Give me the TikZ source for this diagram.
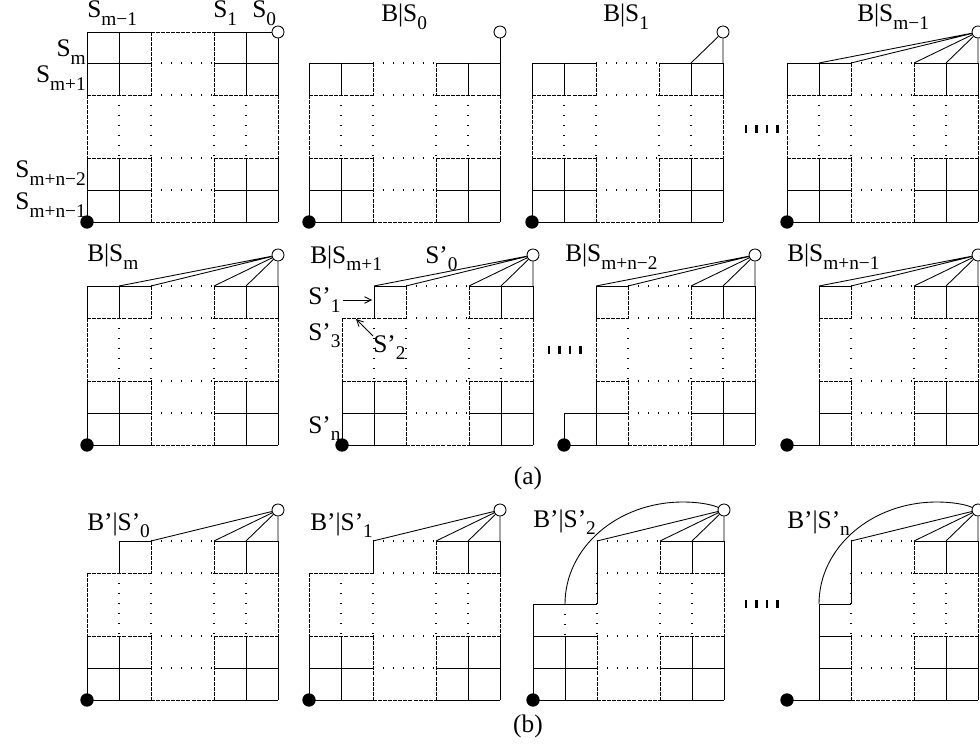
\documentclass[tikz,border=0pt]{standalone}
\usepackage{fontspec}
\setmainfont{Liberation Serif}
\usetikzlibrary{arrows.meta}
\newcommand\sbs[1]{\raisebox{-0.28em}{\fontsize{14.5}{14.5}\selectfont #1}}
\tikzset{
 sl/.style={line width=0.65pt},
 ds/.style={line width=0.65pt, dash pattern=on 3pt off 0.8pt},
 dt/.style={line width=0.9pt, dash pattern=on 1.1pt off 6.4pt},
 opn/.style={circle, draw, fill=white, line width=0.65pt, minimum size=9pt, inner sep=0pt},
 fil/.style={circle, fill=black, minimum size=10pt, inner sep=0pt},
 lbl/.style={font=\fontsize{19}{22}\selectfont, inner sep=0pt},
 tick/.style={line width=2pt},
 arr/.style={line width=0.6pt, -{Straight Barb[length=5pt,width=5pt]}},
}
\newcommand\rightpart{%
\draw[dt] (64,0)--(127,0) (64,32)--(127,32) (64,95)--(127,95) (64,127)--(127,127)
          (64,32)--(64,95) (127,32)--(127,95) (159,32)--(159,95);
\draw[sl] (127,0)--(191,0) (127,127)--(191,127) (127,159)--(191,159)
          (159,0)--(159,32) (159,95)--(159,159) (191,0)--(191,32) (191,95)--(191,159);
\draw[ds] (127,32)--(191,32) (127,95)--(191,95) (64,159)--(127,159)
          (64,0)--(64,32) (64,95)--(64,159) (127,0)--(127,32) (127,95)--(127,159) (191,32)--(191,95);
}
\newcommand\leftfull{%
\draw[sl] (0,0)--(64,0) (0,127)--(64,127) (0,159)--(64,159) (0,0)--(0,32) (0,95)--(0,159) (32,0)--(32,32) (32,95)--(32,159);
\draw[ds] (0,32)--(64,32) (0,95)--(64,95) (0,32)--(0,95);
\draw[dt] (32,32)--(32,95);}
\newcommand\leftnotch{%
\draw[sl] (32,0)--(64,0) (0,127)--(64,127) (0,159)--(64,159) (0,95)--(0,159) (32,0)--(32,32) (32,95)--(32,159);
\draw[ds] (0,32)--(64,32) (0,95)--(64,95) (0,32)--(0,95);
\draw[dt] (32,32)--(32,95);}
\newcommand\mkpts[1]{%
\coordinate (#1a) at (32,0); \coordinate (#1b) at (64,0); \coordinate (#1c) at (127,0);
\coordinate (#1d) at (159,0); \coordinate (#1e) at (191,0); \coordinate (#1f) at (0,159);
\coordinate (#1g) at (191,-31);
\node[opn] (#1o) at (#1g) {}; \node[fil] (#1k) at (#1f) {};}
\newcommand\bigarc[2]{\draw[sl] (#1) .. controls (32,6.7) and (84.3,-39) .. (150,-39)
   .. controls (163.9,-39) and (177.7,-36.9) .. (#2);}
\begin{document}
\begin{tikzpicture}[x=0.75pt,y=-0.75pt]
\useasboundingbox (0,0) rectangle (980,748);
% P1
\begin{scope}[shift={(87,63)}]
\rightpart\leftfull
\draw[sl] (0,-31)--(64,-31) (127,-31)--(191,-31) (0,-31)--(0,0) (32,-31)--(32,0) (159,-31)--(159,0) (191,-31)--(191,0);
\draw[ds] (64,-31)--(127,-31) (64,-31)--(64,0) (127,-31)--(127,0);
\mkpts{A}
\end{scope}
% P2
\begin{scope}[shift={(309,63)}]
\rightpart\leftfull\mkpts{B}
\draw[sl] (Bo)--(Be);
\end{scope}
% P3
\begin{scope}[shift={(532,63)}]
\rightpart\leftfull\mkpts{C}
\draw[sl] (Co)--(Ce) (Co)--(Cd);
\end{scope}
% P4
\begin{scope}[shift={(787,63)}]
\rightpart\leftfull\mkpts{D}
\draw[sl] (Do)--(De) (Do)--(Dd) (Do)--(Dc) (Do)--(Db) (Do)--(Da);
\end{scope}
% P5
\begin{scope}[shift={(87,286)}]
\rightpart\leftfull\mkpts{E}
\draw[sl] (Eo)--(Ee) (Eo)--(Ed) (Eo)--(Ec) (Eo)--(Eb) (Eo)--(Ea);
\end{scope}
% P6
\begin{scope}[shift={(342,286)}]
\rightpart\leftnotch\mkpts{F}
\draw[sl] (Fo)--(Fe) (Fo)--(Fd) (Fo)--(Fc) (Fo)--(Fb) (Fo)--(Fa);
\end{scope}
% P7
\begin{scope}[shift={(564,286)}]
\rightpart
\draw[sl] (32,0)--(64,0) (32,0)--(32,32) (32,95)--(32,159) (0,127)--(64,127) (0,159)--(64,159) (0,127)--(0,159);
\draw[ds] (32,32)--(64,32) (32,95)--(64,95) (32,32)--(32,95);
\mkpts{G}
\draw[sl] (Go)--(Ge) (Go)--(Gd) (Go)--(Gc) (Go)--(Gb) (Go)--(Ga);
\end{scope}
% P8
\begin{scope}[shift={(787,286)}]
\rightpart
\draw[sl] (32,0)--(64,0) (32,0)--(32,32) (32,95)--(32,159) (32,127)--(64,127) (0,159)--(64,159);
\draw[ds] (32,32)--(64,32) (32,95)--(64,95) (32,32)--(32,95);
\mkpts{H}
\draw[sl] (Ho)--(He) (Ho)--(Hd) (Ho)--(Hc) (Ho)--(Hb) (Ho)--(Ha);
\end{scope}
% P9
\begin{scope}[shift={(87,541)}]
\rightpart\leftnotch\mkpts{I}
\draw[sl] (Io)--(Ie) (Io)--(Id) (Io)--(Ic) (Io)--(Ib);
\end{scope}
% P10
\begin{scope}[shift={(309,541)}]
\rightpart
\draw[sl] (0,127)--(64,127) (0,159)--(64,159) (0,95)--(0,159) (32,95)--(32,159) (64,0)--(64,32);
\draw[ds] (0,32)--(64,32) (0,95)--(64,95) (0,32)--(0,95);
\draw[dt] (32,32)--(32,95);
\mkpts{J}
\draw[sl] (Jo)--(Je) (Jo)--(Jd) (Jo)--(Jc) (Jo)--(Jb);
\end{scope}
% P11
\begin{scope}[shift={(533,541)}]
\rightpart
\draw[sl] (0,63)--(64,63) (64,0)--(64,63) (0,63)--(0,159) (0,95)--(64,95) (0,127)--(64,127) (0,159)--(64,159) (32,95)--(32,159);
\draw[dt] (32,63)--(32,95);
\mkpts{K}
\coordinate (Ks) at (32,63);
\draw[sl] (Ko)--(Ke) (Ko)--(Kd) (Ko)--(Kc) (Ko)--(Kb);
\bigarc{Ks}{Ko}
\end{scope}
% P12
\begin{scope}[shift={(787,541)}]
\rightpart
\draw[sl] (32,63)--(64,63) (64,0)--(64,63) (32,63)--(32,159) (32,95)--(64,95) (32,127)--(64,127) (0,159)--(64,159);
\mkpts{L}
\coordinate (Ls) at (32,63);
\draw[sl] (Lo)--(Le) (Lo)--(Ld) (Lo)--(Lc) (Lo)--(Lb);
\bigarc{Ls}{Lo}
\end{scope}
% labels row 1
\node[lbl, anchor=base west] (lSm1) at (87,18) {S\sbs{m−1}};
\node[lbl, anchor=base west] (lS1) at (213,18) {S\sbs{1}};
\node[lbl, anchor=base west] (lS0) at (252,18) {S\sbs{0}};
\node[lbl, anchor=base east] (lSm) at (86,57) {S\sbs{m}};
\node[lbl, anchor=base east] (lSmp1) at (86,83) {S\sbs{m+1}};
\node[lbl, anchor=base east] (lSmn2) at (86,178) {S\sbs{m+n−2}};
\node[lbl, anchor=base east] (lSmn1) at (86,210) {S\sbs{m+n−1}};
\node[lbl, anchor=base west] (tB) at (381,22) {B|S\sbs{0}};
\node[lbl, anchor=base west] (tC) at (603,22) {B|S\sbs{1}};
\node[lbl, anchor=base west] (tD) at (857,22) {B|S\sbs{m−1}};
% labels row 2
\node[lbl, anchor=base west] (tE) at (87,262) {B|S\sbs{m}};
\node[lbl, anchor=base west] (tF) at (310,263) {B|S\sbs{m+1}};
\node[lbl, anchor=base west] (tF0) at (425,263) {S’\sbs{0}};
\node[lbl, anchor=base west] (tF1) at (308,305) {S’\sbs{1}};
\node[lbl, anchor=base west] (tF3) at (308,340) {S’\sbs{3}};
\node[lbl, anchor=base west] (tF2) at (373,352) {S’\sbs{2}};
\node[lbl, anchor=base west] (tFn) at (308,433) {S’\sbs{n}};
\node[lbl, anchor=base west] (tG) at (565,262) {B|S\sbs{m+n−2}};
\node[lbl, anchor=base west] (tH) at (787,262) {B|S\sbs{m+n−1}};
\coordinate (a1) at (372,300);
\coordinate (a2) at (356,319);
\draw[arr] (343,300) -- (a1);
\draw[arr] (373,336) -- (a2);
% labels row 3
\node[lbl, anchor=base west] (tI) at (87,530) {B’|S’\sbs{0}};
\node[lbl, anchor=base west] (tJ) at (310,530) {B’|S’\sbs{1}};
\node[lbl, anchor=base west] (tK) at (533,527) {B’|S’\sbs{2}};
\node[lbl, anchor=base west] (tL) at (787,528) {B’|S’\sbs{n}};
\node[lbl] (capa) at (528,478) {(a)};
\node[lbl] (capb) at (528,726) {(b)};
% ellipsis ticks
\foreach \x in {746,756.5,767,777.5} \draw[tick] (\x,125) -- (\x,133);
\foreach \x in {549,559.5,570,580.5} \draw[tick] (\x,346) -- (\x,354);
\foreach \x in {746,756.5,767,777.5} \draw[tick] (\x,600) -- (\x,608);
\end{tikzpicture}
\end{document}
